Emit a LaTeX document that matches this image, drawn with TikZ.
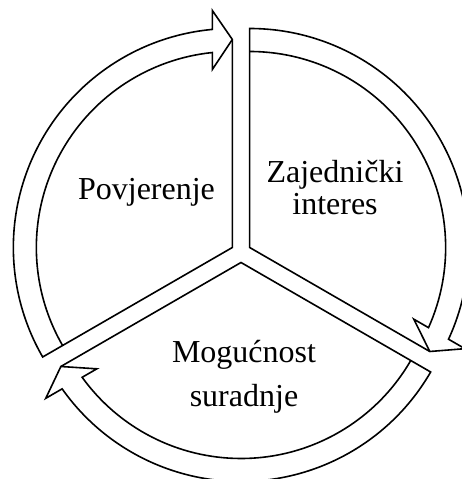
\documentclass[tikz,border=0pt]{standalone}
\usepackage{fontspec}
\setmainfont{Liberation Serif}
\usetikzlibrary{calc}

\begin{document}
\begin{tikzpicture}[x=1pt, y=1pt,
		band/.style={line width=1.6pt, line join=miter, miter limit=12},
		sectortext/.style={font=\fontsize{32}{32}\selectfont, align=center, anchor=base}]
		\useasboundingbox (0,0) rectangle (462,479);
		\clip (0,0) rectangle (462,479);
		
		\pgfmathsetmacro{\Rout}{219}
		\pgfmathsetmacro{\Rin}{196}
		\pgfmathsetmacro{\Rtip}{208}
		\pgfmathsetmacro{\Rbo}{237}
		\pgfmathsetmacro{\Rbi}{178}
		\pgfmathsetmacro{\hl}{20}
		\pgfmathsetmacro{\dO}{asin(\hl/\Rout)}
		\pgfmathsetmacro{\dI}{asin(\hl/\Rin)}
		
		\coordinate (O) at (241,226.5);
		\coordinate (PR) at ($(O)+(30:10)$);
		\coordinate (PL) at ($(O)+(150:10)$);
		\coordinate (PB) at ($(O)+(270:10)$);
		
		% Povjerenje: 210 -> 90
		\draw[band] (PL) -- ++(210:\Rout) arc[start angle=210, end angle=90+\dO, radius=\Rout]
			-- ($(PL)+(90:\Rbo)+(180:\hl)$) -- ($(PL)+(90:\Rtip)$) -- cycle;
		\draw[band] ($(PL)+(210:\Rin)$) arc[start angle=210, end angle=90+\dI, radius=\Rin]
			-- ($(PL)+(90:\Rbi)+(180:\hl)$) -- ($(PL)+(90:\Rtip)$);
		
		% Zajednicki interes: 90 -> -30
		\draw[band] (PR) -- ++(90:\Rout) arc[start angle=90, end angle=-30+\dO, radius=\Rout]
			-- ($(PR)+(-30:\Rbo)+(60:\hl)$) -- ($(PR)+(-30:\Rtip)$) -- cycle;
		\draw[band] ($(PR)+(90:\Rin)$) arc[start angle=90, end angle=-30+\dI, radius=\Rin]
			-- ($(PR)+(-30:\Rbi)+(60:\hl)$) -- ($(PR)+(-30:\Rtip)$);
		
		% Mogucnost suradnje: -30 -> -150
		\draw[band] (PB) -- ++(-30:\Rout) arc[start angle=-30, end angle=-150+\dO, radius=\Rout]
			-- ($(PB)+(-150:\Rbo)+(-60:\hl)$) -- ($(PB)+(-150:\Rtip)$) -- cycle;
		\draw[band] ($(PB)+(-30:\Rin)$) arc[start angle=-30, end angle=-150+\dI, radius=\Rin]
			-- ($(PB)+(-150:\Rbi)+(-60:\hl)$) -- ($(PB)+(-150:\Rtip)$);
		
		% multi-line nodes: base = last line
		\node[sectortext] (trust) at (146.5,279) {Povjerenje};
		\node[sectortext] (interest) at (335,264) {Zajednički\\interes};
		\node[sectortext] (coop) at (244,72) {Mogućnost\\[12pt]suradnje};
	\end{tikzpicture}
\end{document}
